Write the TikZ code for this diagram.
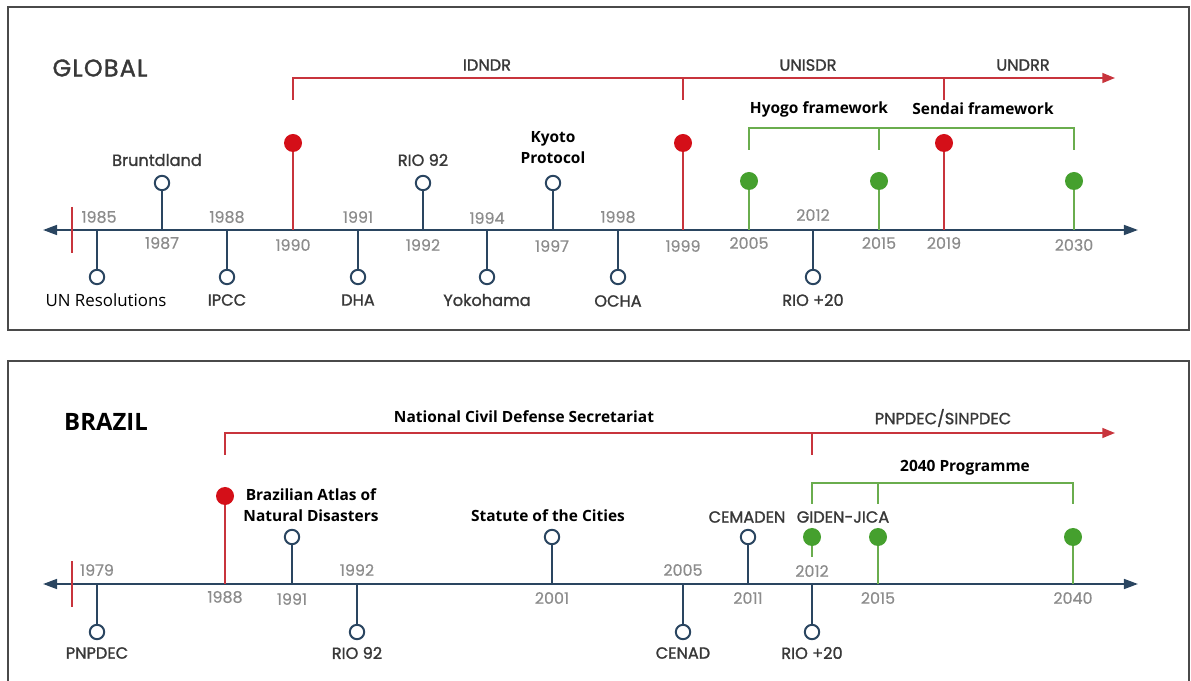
\documentclass[tikz,border=0pt]{standalone}
\usepackage{fontspec}
\setmainfont{Open Sans}
\newfontfamily\mont{Poppins}[FakeBold=1.3]
\newfontfamily\montr{Poppins}[FakeBold=0.5]
\newfontfamily\monttitle{Poppins}[FakeBold=1.5,LetterSpace=5]
\usetikzlibrary{arrows.meta}
\definecolor{navy}{HTML}{2A4560}
\definecolor{tlred}{HTML}{C8343C}
\definecolor{dotred}{HTML}{D40F18}
\definecolor{tlgreen}{HTML}{6AAD4E}
\definecolor{dotgreen}{HTML}{45A02E}
\definecolor{yeargray}{HTML}{8C8C8C}
\definecolor{labgray}{HTML}{383838}
\definecolor{framegray}{HTML}{4A4A4A}
\begin{document}
\begin{tikzpicture}[x=0.025cm,y=-0.025cm,
  axisline/.style={navy,line width=1.5pt,{Triangle[length=10pt,width=7pt]}-{Triangle[length=10pt,width=7pt]}},
  stem/.style={navy,line width=1.4pt},
  redline/.style={tlred,line width=1.3pt},
  greenline/.style={tlgreen,line width=1.3pt},
  opencirc/.style={circle,draw=navy,fill=white,line width=1.4pt,minimum size=0.36cm,inner sep=0pt},
  reddot/.style={circle,fill=dotred,minimum size=0.45cm,inner sep=0pt},
  greendot/.style={circle,fill=dotgreen,minimum size=0.45cm,inner sep=0pt},
  yr/.style={text=yeargray,font=\montr\fontsize{11.3}{12}\selectfont,inner sep=0pt},
  mlab/.style={text=labgray,font=\mont\fontsize{11.5}{13}\selectfont,inner sep=0pt},
  blab/.style={text=black,font=\bfseries\fontsize{11}{15}\selectfont,inner sep=0pt,align=center},
  panel/.style={framegray,line width=1.5pt}]
\useasboundingbox (0,0) rectangle (1191,681);
% panels
\draw[panel] (8,7) rectangle (1189,330);
\draw[panel] (8,681) -- (8,361) -- (1189,361) -- (1189,681);
% ================= GLOBAL =================
\node[text=labgray,font=\monttitle\fontsize{17}{19}\selectfont,inner sep=0pt] (gtitle) at (100,68) {GLOBAL};
\coordinate (gL) at (43,230);
\coordinate (gR) at (1138,230);
\draw[axisline] (gL) -- (gR);
\coordinate (gt1) at (72,207); \coordinate (gt2) at (72,253);
\draw[redline] (gt1) -- (gt2);
% red bracket
\coordinate (gb1) at (293,100); \coordinate (gb1t) at (293,78);
\coordinate (gbE) at (1115,78);
\draw[redline,-{Triangle[length=9pt,width=7pt]}] (gb1) -- (gb1t) -- (gbE);
\coordinate (gb2) at (683,100); \coordinate (gb2t) at (683,78);
\coordinate (gb3) at (944,100); \coordinate (gb3t) at (944,78);
\draw[redline] (gb2t) -- (gb2);
\draw[redline] (gb3t) -- (gb3);
\node[mlab] (idndr) at (487,65) {IDNDR};
\node[mlab] (unisdr) at (808,65) {UNISDR};
\node[mlab] (undrr) at (1023,65) {UNDRR};
% green bracket
\coordinate (gg1) at (749,150); \coordinate (gg1t) at (749,128);
\coordinate (gg2) at (879,150); \coordinate (gg2t) at (879,128);
\coordinate (gg3) at (1074,150); \coordinate (gg3t) at (1074,128);
\draw[greenline] (gg1) -- (gg1t) -- (gg3t) -- (gg3);
\draw[greenline] (gg2t) -- (gg2);
\node[blab] (hyogo) at (819,109) {Hyogo framework};
\node[blab] (sendai) at (983,109) {Sendai framework};
% open circles below
\foreach \n/\x in {1985/97,1988/227,1991/358,1994/487,1998/618,2012/813}{
  \coordinate (ga\n) at (\x,230);
  \node[opencirc] (gc\n) at (\x,277) {};
  \draw[stem] (ga\n) -- (gc\n);
}
% open circles above
\foreach \n/\x in {1987/162,1992/423,1997/553}{
  \coordinate (ga\n) at (\x,230);
  \node[opencirc] (gc\n) at (\x,183) {};
  \draw[stem] (ga\n) -- (gc\n);
}
% red dots
\foreach \n/\x in {1990/293,1999/683,2019/944}{
  \coordinate (ga\n) at (\x,230);
  \node[reddot] (gc\n) at (\x,143) {};
  \draw[redline] (ga\n) -- (gc\n);
}
% green dots
\foreach \n/\x in {2005/749,2015/879,2030/1074}{
  \coordinate (ga\n) at (\x,230);
  \node[greendot] (gc\n) at (\x,181) {};
  \draw[greenline] (ga\n) -- (gc\n);
}
% years
\foreach \n/\x/\y in {1985/99/217,1988/227/217,1991/358/217,1994/487/218,1998/618/217,2012/813/215,
  1987/162/243,1990/293/245,1992/423/245,1997/552/246,1999/683/246,2005/749/243,2015/879/243,2019/944/243,2030/1074/245}{
  \node[yr] (gy\n) at (\x,\y) {\n};
}
% labels
\node[text=black,font=\fontsize{12}{14}\selectfont,inner sep=0pt] (unres) at (106,300) {UN Resolutions};
\node[mlab] (brundt) at (157,160) {Bruntdland};
\node[mlab] (ipcc) at (227,300) {IPCC};
\node[mlab] (dha) at (358,300) {DHA};
\node[mlab] (rio92g) at (423,160) {RIO 92};
\node[mlab] (yoko) at (487,300) {Yokohama};
\node[blab] (kyoto) at (553,148) {Kyoto\\Protocol};
\node[mlab] (ocha) at (618,301) {OCHA};
\node[mlab] (rio20g) at (813,300) {RIO +20};
% ================= BRAZIL =================
\node[text=black,font=\bfseries\fontsize{17}{20}\selectfont,inner sep=0pt] (btitle) at (106,422) {BRAZIL};
\coordinate (bL) at (43,584);
\coordinate (bR) at (1138,584);
\draw[axisline] (bL) -- (bR);
\coordinate (bt1) at (72,561); \coordinate (bt2) at (72,607);
\draw[redline] (bt1) -- (bt2);
% red bracket
\coordinate (bb1) at (225,455); \coordinate (bb1t) at (225,433);
\coordinate (bbE) at (1115,433);
\draw[redline,-{Triangle[length=9pt,width=7pt]}] (bb1) -- (bb1t) -- (bbE);
\coordinate (bb2) at (812,455); \coordinate (bb2t) at (812,433);
\draw[redline] (bb2t) -- (bb2);
\node[blab] (ncds) at (524,417) {National Civil Defense Secretariat};
\node[mlab] (pnsin) at (943,418) {PNPDEC/SINPDEC};
% green bracket
\coordinate (bg1) at (812,504); \coordinate (bg1t) at (812,483);
\coordinate (bg2) at (878,504); \coordinate (bg2t) at (878,483);
\coordinate (bg3) at (1073,504); \coordinate (bg3t) at (1073,483);
\draw[greenline] (bg1) -- (bg1t) -- (bg3t) -- (bg3);
\draw[greenline] (bg2t) -- (bg2);
\node[blab] (prog) at (965,468) {2040 Programme};
% open circles below
\foreach \n/\x in {1979/97,1992/357,2005/683,2012/812}{
  \coordinate (ba\n) at (\x,584);
  \node[opencirc] (bc\n) at (\x,632) {};
  \draw[stem] (ba\n) -- (bc\n);
}
% open circles above
\foreach \n/\x in {1991/292,2001/552,2011/748}{
  \coordinate (ba\n) at (\x,584);
  \node[opencirc] (bc\n) at (\x,537) {};
  \draw[stem] (ba\n) -- (bc\n);
}
% red dot
\coordinate (ba1988) at (225,584);
\node[reddot] (bc1988) at (225,496) {};
\draw[redline] (ba1988) -- (bc1988);
% green dots
\foreach \n/\x in {2015/878,2040/1073}{
  \coordinate (ba\n) at (\x,584);
  \node[greendot] (bc\n) at (\x,537) {};
  \draw[greenline] (ba\n) -- (bc\n);
}
\node[greendot] (bgd2012) at (812,537) {};
\coordinate (bgs2012) at (812,557);
\draw[greenline] (bgd2012) -- (bgs2012);
% years
\foreach \n/\x/\y in {1979/97/570,1992/357/570,2005/683/570,2012/812/571,
  1988/225/597,1991/292/599,2001/552/598,2011/748/598,2015/878/598,2040/1073/598}{
  \node[yr] (by\n) at (\x,\y) {\n};
}
% labels
\node[mlab] (pnpdec) at (97,653) {PNPDEC};
\node[mlab] (rio92b) at (357,653) {RIO 92};
\node[mlab] (cenad) at (683,653) {CENAD};
\node[mlab] (rio20b) at (812,653) {RIO +20};
\node[blab] (atlas) at (311,505) {Brazilian Atlas of\\Natural Disasters};
\node[blab] (statute) at (548,516) {Statute of the Cities};
\node[mlab] (cemaden) at (747,517) {CEMADEN};
\node[mlab] (giden) at (843,517) {GIDEN-JICA};
\end{tikzpicture}
\end{document}
